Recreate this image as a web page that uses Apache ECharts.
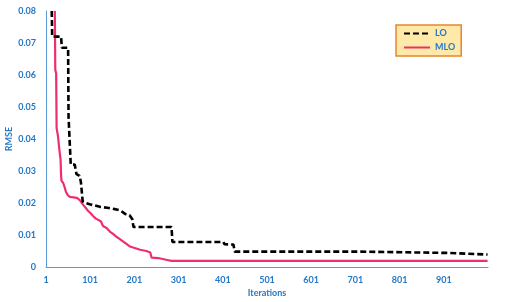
<!DOCTYPE html>
<html>
<head>
<meta charset="utf-8">
<script src="https://cdn.jsdelivr.net/npm/echarts@6/dist/echarts.min.js"></script>
<style>html,body{margin:0;padding:0;background:#fff}#c{width:506px;height:302px}</style>
</head>
<body>
<div id="c"></div>
<script>
// Iteration numbers and RMSE values
const loIter = [14, 15, 35, 37, 51, 52, 56, 57, 66, 70, 77, 80, 84, 90, 100, 112, 123, 140, 160, 170, 180, 190, 196, 199, 285, 287, 402, 405, 425, 428, 713, 716, 908, 912, 1000];
const loVal  = [0.080, 0.072, 0.072, 0.0685, 0.0685, 0.047, 0.047, 0.032, 0.032, 0.029, 0.0285, 0.0265, 0.0205, 0.0200, 0.0196, 0.0192, 0.0188, 0.0185, 0.0180, 0.0176, 0.0166, 0.0162, 0.0150, 0.0125, 0.0125, 0.0078, 0.0078, 0.0071, 0.0070, 0.0048, 0.0048, 0.0044, 0.0044, 0.0039, 0.0039];

const mloIter = [21, 22, 24, 25, 28, 31, 34, 35, 36, 40, 43, 46, 50, 55, 71, 78, 83, 87, 96, 102, 107, 113, 117, 125, 130, 138, 146, 152, 160, 169, 175, 183, 191, 200, 214, 228, 237, 240, 255, 265, 275, 285, 1000];
const mloVal  = [0.080, 0.0616, 0.0605, 0.0434, 0.041, 0.037, 0.0335, 0.029, 0.027, 0.0262, 0.025, 0.0235, 0.0225, 0.0219, 0.0216, 0.0208, 0.0198, 0.0192, 0.0176, 0.0168, 0.0160, 0.0152, 0.0147, 0.0143, 0.0128, 0.0122, 0.0110, 0.0104, 0.0095, 0.0086, 0.0080, 0.0072, 0.0064, 0.0060, 0.0054, 0.0050, 0.0045, 0.0029, 0.0028, 0.0025, 0.0022, 0.0019, 0.0019];

const xTickStart = 1;      // first iteration label
const seriesNames = ['LO', 'MLO'];

const blue = '#2478c8';
const font = 'Lato';
const toPairs = (xs, ys) => xs.map((x, i) => [x - xTickStart, ys[i]]);

const chart = echarts.init(document.getElementById('c'), null, {renderer: 'canvas'});
chart.setOption({
  animation: false,
  backgroundColor: '#fff',
  grid: {left: 46, right: 18, top: 11, bottom: 35, containLabel: false, outerBoundsMode: 'none'},
  legend: {
    orient: 'vertical',
    left: 396, top: 25,
    data: seriesNames,
    backgroundColor: '#fee9a8',
    borderColor: '#e8852f',
    borderWidth: 1.5,
    padding: [4, 6, 4, 7],
    itemGap: 5,
    itemWidth: 26,
    itemHeight: 10,
    itemStyle: {opacity: 0, borderWidth: 0},
    textStyle: {color: blue, fontWeight: 'bold', fontSize: 9, fontFamily: font}
  },
  xAxis: {
    type: 'value',
    min: 0, max: 1000, interval: 100,
    name: 'Iterations',
    nameLocation: 'middle',
    nameGap: 22,
    nameMoveOverlap: false,
    nameTextStyle: {color: blue, fontWeight: 'bold', fontSize: 9, fontFamily: font},
    axisLine: {lineStyle: {color: '#5b9bd5', width: 1}},
    axisTick: {show: false},
    splitLine: {show: false},
    axisLabel: {
      color: blue, fontWeight: 'bold', fontSize: 9, fontFamily: font, margin: 9,
      formatter: v => v >= 1000 ? '' : String(v + xTickStart)
    }
  },
  yAxis: {
    type: 'value',
    min: 0, max: 0.08, interval: 0.01,
    name: 'RMSE',
    nameLocation: 'middle',
    nameGap: 32,
    nameMoveOverlap: false,
    nameTextStyle: {color: blue, fontWeight: 'bold', fontSize: 9, fontFamily: font},
    axisLine: {show: true, lineStyle: {color: '#5b9bd5', width: 1}},
    axisTick: {show: false},
    splitLine: {show: false},
    axisLabel: {
      color: blue, fontWeight: 'bold', fontSize: 9, fontFamily: font, margin: 10,
      formatter: v => v === 0 ? '0' : v.toFixed(2)
    }
  },
  series: [
    {
      name: seriesNames[0], type: 'line', symbol: 'none', z: 3,
      data: toPairs(loIter, loVal),
      lineStyle: {color: '#000', width: 2.6, type: [6, 3]},
      itemStyle: {color: '#000'}
    },
    {
      name: seriesNames[1], type: 'line', symbol: 'none', z: 2,
      data: toPairs(mloIter, mloVal),
      lineStyle: {color: '#ee2f6d', width: 2.2},
      itemStyle: {color: '#ee2f6d'}
    }
  ]
});
</script>
</body>
</html>
